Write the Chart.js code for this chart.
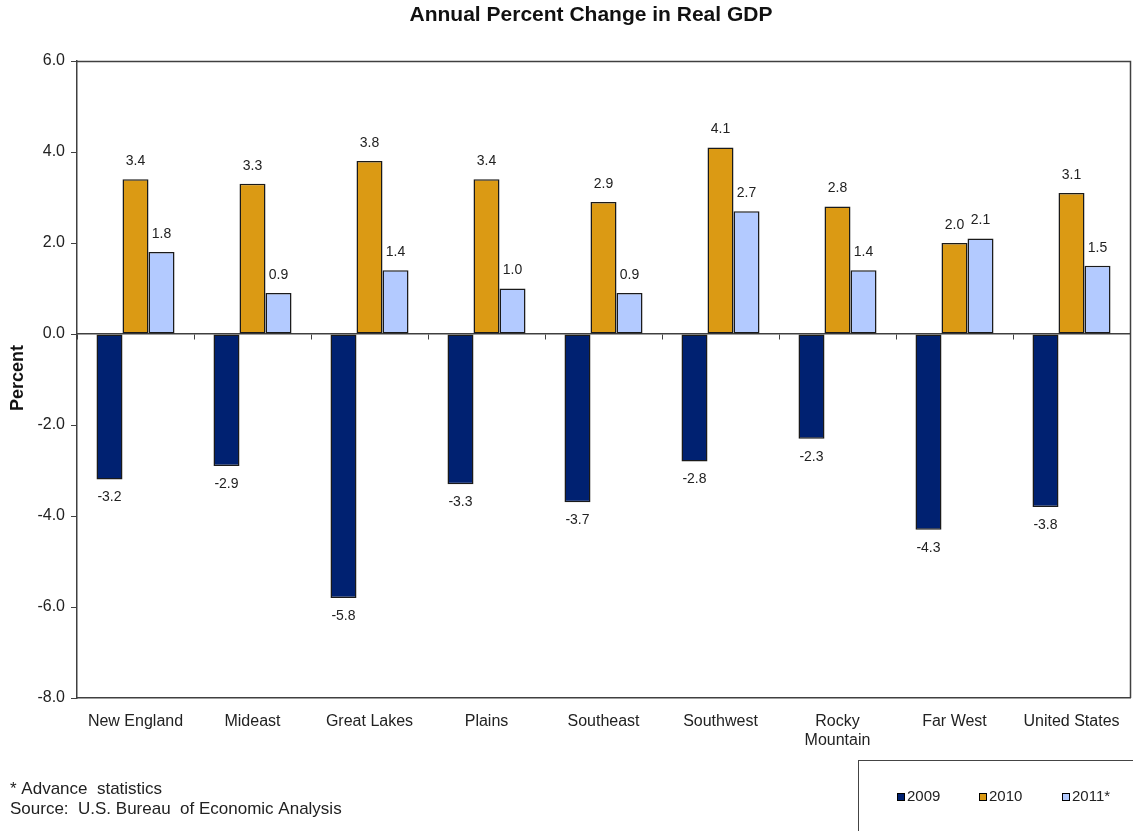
<!DOCTYPE html>
<html>
<head>
<meta charset="utf-8">
<title>Annual Percent Change in Real GDP</title>
<script src="https://cdn.jsdelivr.net/npm/chart.js@4/dist/chart.umd.min.js"></script>
<style>
  body { margin: 0; background: #fff; }
  canvas { display: block; }
</style>
</head>
<body>
<canvas id="gdpChart" width="1133" height="831"></canvas>
<script>
// regions along the x axis
const regions = ['New England', 'Mideast', 'Great Lakes', 'Plains', 'Southeast', 'Southwest', ['Rocky', 'Mountain'], 'Far West', 'United States'];

// annual percent change, by year
const gdp2009 = [-3.2, -2.9, -5.8, -3.3, -3.7, -2.8, -2.3, -4.3, -3.8];
const gdp2010 = [3.4, 3.3, 3.8, 3.4, 2.9, 4.1, 2.8, 2.0, 3.1];
const gdp2011 = [1.8, 0.9, 1.4, 1.0, 0.9, 2.7, 1.4, 2.1, 1.5];

const seriesNames = ['2009', '2010', '2011*'];
const yTicks = [-8, -6, -4, -2, 0, 2, 4, 6];

const FONT = '"Liberation Sans", Arial, sans-serif';

// title, footnotes, value labels, border and legend box
const extras = {
    id: 'extras',
    afterDraw(chart) {
        const ctx = chart.ctx;
        const area = chart.chartArea;
        ctx.save();

        // plot frame (top and right)
        ctx.strokeStyle = '#404040';
        ctx.lineWidth = 1.5;
        ctx.beginPath();
        ctx.moveTo(area.left, area.top + 0.5);
        ctx.lineTo(area.right + 0.5, area.top + 0.5);
        ctx.lineTo(area.right + 0.5, area.bottom);
        ctx.stroke();

        // value labels
        ctx.fillStyle = '#222';
        ctx.font = '14px ' + FONT;
        ctx.textAlign = 'center';
        ctx.textBaseline = 'middle';
        chart.data.datasets.forEach((ds, i) => {
            chart.getDatasetMeta(i).data.forEach((bar, j) => {
                const v = ds.data[j];
                const y = v >= 0 ? bar.y - 18 : bar.y + 18;
                ctx.fillText(v.toFixed(1), bar.x, y);
            });
        });

        // title
        ctx.fillStyle = '#111';
        ctx.font = 'bold 21px ' + FONT;
        ctx.fillText('Annual Percent Change in Real GDP', 591, 15);

        // y title
        ctx.save();
        ctx.translate(18, 378);
        ctx.rotate(-Math.PI / 2);
        ctx.font = 'bold 18px ' + FONT;
        ctx.fillText('Percent', 0, 0);
        ctx.restore();

        // footnotes
        ctx.textAlign = 'left';
        ctx.font = '17px ' + FONT;
        ctx.fillStyle = '#222';
        ctx.fillText('* Advance  statistics', 10, 789);
        ctx.fillText('Source:  U.S. Bureau  of Economic Analysis', 10, 809);

        // legend box
        ctx.font = '15px ' + FONT;
        ctx.strokeStyle = '#444';
        ctx.lineWidth = 1;
        ctx.strokeRect(858.5, 760.5, 300, 100);
        const itemX = [897, 979, 1062];
        chart.data.datasets.forEach((ds, i) => {
            const x = itemX[i];
            ctx.fillStyle = ds.backgroundColor;
            ctx.fillRect(x, 793, 8, 8);
            ctx.strokeStyle = '#000';
            ctx.strokeRect(x + 0.5, 793.5, 7, 7);
            ctx.fillStyle = '#222';
            ctx.fillText(ds.label, x + 10, 797);
        });

        ctx.restore();
    }
};

new Chart(document.getElementById('gdpChart'), {
    type: 'bar',
    data: {
        labels: regions,
        datasets: [
            { label: seriesNames[0], data: gdp2009, backgroundColor: '#002171' },
            { label: seriesNames[1], data: gdp2010, backgroundColor: '#DB9A14' },
            { label: seriesNames[2], data: gdp2011, backgroundColor: '#B3CAFF' }
        ].map(ds => Object.assign(ds, {
            xAxisID: 'x',
            borderColor: '#1a1a1a',
            borderWidth: 1.5,
            borderSkipped: false,
            categoryPercentage: 0.667,
            barPercentage: 1.0
        }))
    },
    options: {
        responsive: false,
        animation: false,
        devicePixelRatio: 1,
        layout: { padding: { top: 61, right: 3, left: 0, bottom: 0 } },
        plugins: {
            legend: { display: false },
            title: { display: false },
            tooltip: { enabled: false }
        },
        scales: {
            x: {
                position: 'bottom',
                grid: { display: false },
                border: { display: true, color: '#404040', width: 1.5 },
                ticks: {
                    color: '#222',
                    font: { family: FONT, size: 16 },
                    padding: 6,
                    maxRotation: 0,
                    autoSkip: false
                },
                afterFit: s => { s.height = 133; }
            },
            x2: {
                position: { y: 0 },
                offset: true,
                grid: { drawOnChartArea: false, drawTicks: true, tickLength: 5, color: '#404040', offset: true },
                border: { display: true, color: '#404040', width: 1.5 },
                ticks: { display: false },
                afterFit: s => { s.height = 0; }
            },
            y: {
                min: -8,
                max: 6,
                afterBuildTicks: s => { s.ticks = yTicks.map(v => ({ value: v })); },
                grid: { drawOnChartArea: false, drawTicks: true, tickLength: 6, color: '#404040' },
                border: { display: true, color: '#404040', width: 1.5 },
                ticks: {
                    color: '#222',
                    font: { family: FONT, size: 16 },
                    padding: 6,
                    callback: v => v.toFixed(1)
                },
                afterFit: s => { s.width = 77; }
            }
        }
    },
    plugins: [extras]
});
</script>
</body>
</html>
